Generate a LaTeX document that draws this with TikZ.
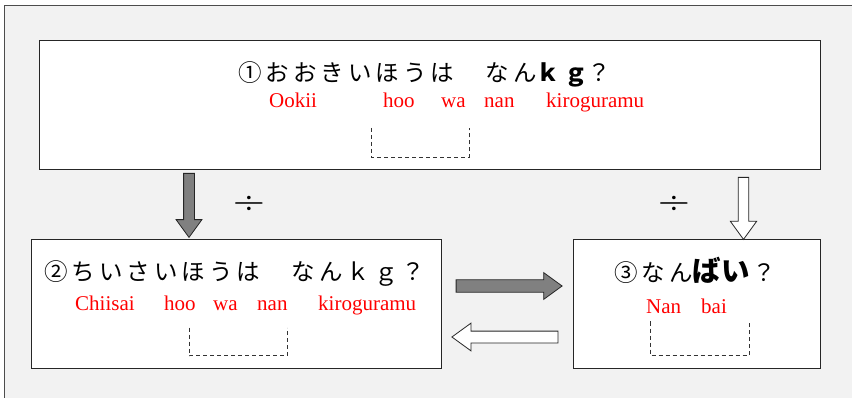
\documentclass[tikz,border=0pt]{standalone}
\usepackage{fontspec}
\newfontfamily\jp[LetterSpace=17]{Noto Sans CJK JP}
\newfontfamily\jpbig{Noto Sans CJK JP}
\newfontfamily\romafont{Liberation Serif}
\usetikzlibrary{shapes.arrows}

\tikzset{
  box/.style={draw=black!85, line width=1pt, fill=white, anchor=north west, inner sep=0pt},
  jtext/.style={font=\jp\fontsize{23.5}{24}\selectfont, inner sep=0pt, anchor=base west},
  roma/.style={text=red, font=\romafont\fontsize{21}{22}\selectfont, inner sep=0pt, anchor=base west},
  blank/.style={draw=black!80, line width=0.9pt, dash pattern=on 4pt off 3pt},
  blockarrow/.style={single arrow, draw=black!85, line width=0.8pt, inner xsep=0pt,
    single arrow tip angle=72, single arrow head indent=0pt, anchor=tail},
}

\begin{document}
\begin{tikzpicture}[x=1pt, y=-1pt]
		\useasboundingbox (0,0) rectangle (852,398);
		% background frame
		\draw[black!70, line width=1.5pt, fill=black!5] (4.5,5.5) rectangle (900,450);

		% the three boxes
		\node[box, minimum width=781, minimum height=129] (big) at (39,40) {};
		\node[box, minimum width=410, minimum height=129] (small) at (31,239) {};
		\node[box, minimum width=247, minimum height=129] (times) at (573,239) {};

		% questions
		\node[jtext] (q1) at (238,82) {①おおきいほうは　なん{\bfseries ｋｇ}？};
		\node[jtext] (q2) at (44,281) {②ちいさいほうは　なんｋｇ？};
		\node[jtext] (q3) at (614,282) {③なん{\jpbig\bfseries\fontsize{28.5}{28}\selectfont ばい}\hspace{3pt}？};

		% readings
		\foreach \w/\x [count=\i] in {Ookii/269, hoo/383, wa/441, nan/484, kiroguramu/546}
			\node[roma] (r1-\i) at (\x,108) {\w};
		\foreach \w/\x [count=\i] in {Chiisai/75, hoo/164, wa/213, nan/257, kiroguramu/318}
			\node[roma] (r2-\i) at (\x,311) {\w};
		\foreach \w/\x [count=\i] in {Nan/646, bai/701}
			\node[roma] (r3-\i) at (\x,313) {\w};

		% answer blanks
		\draw[blank] (371.5,128) -- (371.5,157.5) -- (469,157.5) -- (469,128);
		\draw[blank] (189.3,327.5) -- (189.3,355.5) -- (287.3,355.5) -- (287.3,327.5);
		\draw[blank] (650.5,321.5) -- (650.5,355.5) -- (749,355.5) -- (749,321.5);

		% division signs
		\node (div1) at (249.5,205) {\fontsize{44}{44}\selectfont ÷};
		\node (div2) at (674,205) {\fontsize{44}{44}\selectfont ÷};

		% block arrows
		\node[blockarrow, fill=gray, rotate=-90, inner ysep=5pt, minimum height=64,
			single arrow head extend=7.5pt] (down1) at (189,173) {};
		\node[blockarrow, fill=white, rotate=-90, inner ysep=4.8pt, minimum height=62,
			single arrow head extend=8pt] (down2) at (743.5,177) {};
		\node[blockarrow, fill=gray, inner ysep=5.8pt, minimum height=106,
			single arrow head extend=7.2pt] (right) at (455.7,286) {};
		\node[blockarrow, fill=white, rotate=180, inner ysep=5.5pt, minimum height=106,
			single arrow head extend=8pt] (left) at (558.3,337) {};
	\end{tikzpicture}
\end{document}
